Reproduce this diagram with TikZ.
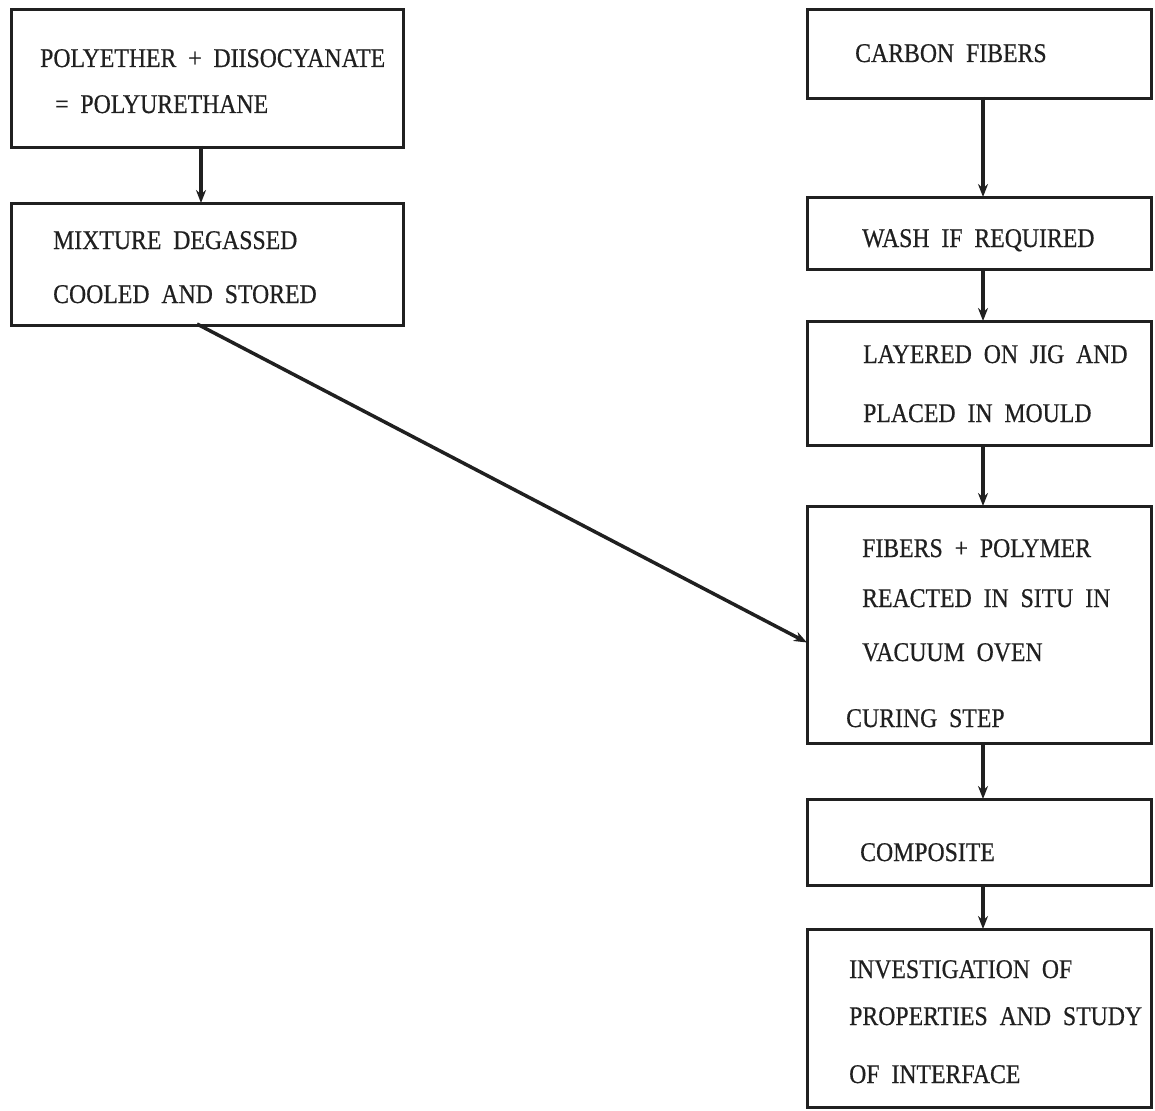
\documentclass[tikz,border=0pt]{standalone}
\usepackage{fontspec}
\setmainfont[WordSpace=2,FakeBold=0.6]{Liberation Serif}
\usepackage{graphicx}
\usetikzlibrary{arrows.meta}
\definecolor{ink}{HTML}{202020}
\newcommand\tx[1]{\scalebox{0.88}[1]{#1}}
\tikzset{
  box/.style={draw=ink, line width=3pt, rectangle, inner sep=0pt, anchor=north west},
  lbl/.style={anchor=base west, inner sep=0pt, text=ink, font=\fontsize{27}{27}\selectfont},
  flow/.style={draw=ink, line width=3.5pt, -{Stealth[length=13pt,width=10pt]}, shorten >=-1pt}
}
\begin{document}
\begin{tikzpicture}[x=1pt,y=-1pt]
\useasboundingbox (0,0) rectangle (1155,1110);
% left column
\node[box, minimum width=392pt, minimum height=138pt] (L1) at (10,8) {};
\node[lbl] (t1a) at (40,67) {\tx{POLYETHER + DIISOCYANATE}};
\node[lbl] (t1b) at (55,113) {\tx{= POLYURETHANE}};
\node[box, minimum width=392pt, minimum height=122pt] (L2) at (10,202) {};
\node[lbl] (t2a) at (53,249) {\tx{MIXTURE DEGASSED}};
\node[lbl] (t2b) at (53,303) {\tx{COOLED AND STORED}};
% right column
\node[box, minimum width=344pt, minimum height=89pt] (R1) at (806,8) {};
\node[lbl] (r1a) at (855,62) {\tx{CARBON FIBERS}};
\node[box, minimum width=344pt, minimum height=72pt] (R2) at (806,196) {};
\node[lbl] (r2a) at (862,247) {\tx{WASH IF REQUIRED}};
\node[box, minimum width=344pt, minimum height=124pt] (R3) at (806,320) {};
\node[lbl] (r3a) at (863,363) {\tx{LAYERED ON JIG AND}};
\node[lbl] (r3b) at (863,422) {\tx{PLACED IN MOULD}};
\node[box, minimum width=344pt, minimum height=237pt] (R4) at (806,505) {};
\node[lbl] (r4a) at (862,557) {\tx{FIBERS + POLYMER}};
\node[lbl] (r4b) at (862,607) {\tx{REACTED IN SITU IN}};
\node[lbl] (r4c) at (862,661) {\tx{VACUUM OVEN}};
\node[lbl] (r4d) at (846,727) {\tx{CURING STEP}};
\node[box, minimum width=344pt, minimum height=86pt] (R5) at (806,798) {};
\node[lbl] (r5a) at (860,861) {\tx{COMPOSITE}};
\node[box, minimum width=344pt, minimum height=178pt] (R6) at (806,928) {};
\node[lbl] (r6a) at (849,978) {\tx{INVESTIGATION OF}};
\node[lbl] (r6b) at (849,1025) {\tx{PROPERTIES AND STUDY}};
\node[lbl] (r6c) at (849,1083) {\tx{OF INTERFACE}};
% connectors
\coordinate (l1b) at (201,146);
\coordinate (l2t) at (201,202);
\draw[flow] (l1b) -- (l2t);
\coordinate (r1b) at (983,97);
\coordinate (r2t) at (983,196);
\draw[flow] (r1b) -- (r2t);
\coordinate (r2b) at (983,268);
\coordinate (r3t) at (983,320);
\draw[flow] (r2b) -- (r3t);
\coordinate (r3b) at (983,444);
\coordinate (r4t) at (983,505);
\draw[flow] (r3b) -- (r4t);
\coordinate (r4b) at (983,742);
\coordinate (r5t) at (983,798);
\draw[flow] (r4b) -- (r5t);
\coordinate (r5b) at (983,884);
\coordinate (r6t) at (983,928);
\draw[flow] (r5b) -- (r6t);
\coordinate (d0) at (197,324);
\coordinate (d1) at (806,642);
\draw[flow] (d0) -- (d1);
\end{tikzpicture}
\end{document}
